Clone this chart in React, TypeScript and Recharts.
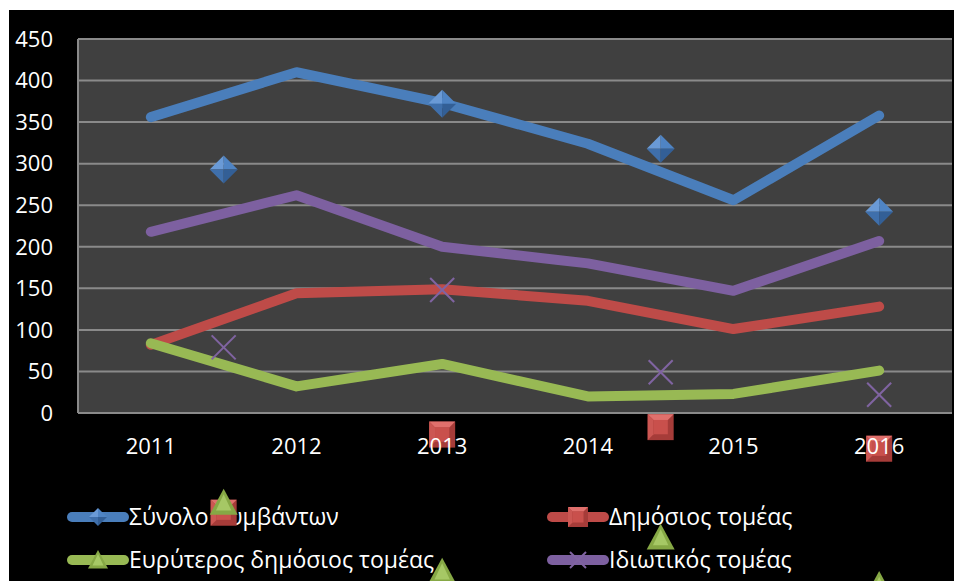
import React from 'react';
import { ComposedChart, Line, Scatter, XAxis, YAxis, CartesianGrid } from 'recharts';

const years = ['2011', '2012', '2013', '2014', '2015', '2016'];
const totalIncidents = [356, 410, 373, 324, 256, 358];
const publicSector = [82, 144, 149, 135, 101, 128];
const widerPublicSector = [84, 32, 59, 20, 23, 51];
const privateSector = [218, 262, 200, 180, 147, 207];

// stray markers, drawn off the lines as in the original
const markerX = [0.5, 2, 3.5, 5];
const totalMarks = [293, 372, 318, 242];
const publicMarks = [-120, -26, -17, -43];
const widerMarks = [-108, -191, -150, -207];
const privateMarks = [79, 148, 49, 22];

const yTicks = [0, 50, 100, 150, 200, 250, 300, 350, 400, 450];

const BLUE = '#4a7ebb';
const RED = '#be4b48';
const GREEN = '#98b954';
const PURPLE = '#7d60a0';

const lineData = years.map((y, i) => ({
  x: i,
  total: totalIncidents[i],
  pub: publicSector[i],
  wider: widerPublicSector[i],
  priv: privateSector[i],
}));

const marks = (vals: number[]) => markerX.map((x, i) => ({ x, y: vals[i] }));

const Diamond = ({ cx, cy, r = 14 }: any) => (
  <g>
    <polygon points={`${cx},${cy - r} ${cx},${cy} ${cx - r},${cy}`} fill="#6a9ad6" />
    <polygon points={`${cx},${cy - r} ${cx + r},${cy} ${cx},${cy}`} fill="#4f84c4" />
    <polygon points={`${cx - r},${cy} ${cx},${cy} ${cx},${cy + r}`} fill="#3f6fab" />
    <polygon points={`${cx},${cy} ${cx + r},${cy} ${cx},${cy + r}`} fill="#335f96" />
  </g>
);

const Square = ({ cx, cy, r = 13 }: any) => {
  const i = r * 0.55;
  return (
    <g>
      <rect x={cx - r} y={cy - r} width={r * 2} height={r * 2} fill="#a63c39" />
      <polygon points={`${cx - r},${cy - r} ${cx + r},${cy - r} ${cx + i},${cy - i} ${cx - i},${cy - i}`} fill="#e0706c" />
      <polygon points={`${cx - r},${cy - r} ${cx - i},${cy - i} ${cx - i},${cy + i} ${cx - r},${cy + r}`} fill="#cc5753" />
      <rect x={cx - i} y={cy - i} width={i * 2} height={i * 2} fill="#c9504c" />
    </g>
  );
};

const Triangle = ({ cx, cy, r = 14 }: any) => (
  <g>
    <polygon points={`${cx},${cy - r} ${cx + r},${cy + r * 0.85} ${cx - r},${cy + r * 0.85}`} fill="#86a845" />
    <polygon points={`${cx},${cy - r * 0.6} ${cx + r * 0.55},${cy + r * 0.55} ${cx - r * 0.55},${cy + r * 0.55}`} fill="#a6c865" />
  </g>
);

const Cross = ({ cx, cy, r = 12 }: any) => (
  <g stroke="#8064a2" strokeWidth={2}>
    <line x1={cx - r} y1={cy - r} x2={cx + r} y2={cy + r} />
    <line x1={cx - r} y1={cy + r} x2={cx + r} y2={cy - r} />
  </g>
);

const legendItems = [
  { name: 'Σύνολο συμβάντων', color: BLUE, Mark: Diamond, r: 9, left: 58, top: 507 },
  { name: 'Δημόσιος τομέας', color: RED, Mark: Square, r: 10, left: 538, top: 507 },
  { name: 'Ευρύτερος δημόσιος τομέας', color: GREEN, Mark: Triangle, r: 10, left: 58, top: 550 },
  { name: 'Ιδιωτικός τομέας', color: PURPLE, Mark: Cross, r: 8, left: 538, top: 550 },
];

export default function App() {
  return (
    <div
      style={{
        position: 'fixed',
        left: 9,
        top: 10,
        width: 945,
        height: 571,
        background: '#000',
        zIndex: 0,
        fontFamily: '"Open Sans", sans-serif',
      }}
    >
      <style>{'html,body{overflow:hidden}.recharts-scatter{clip-path:none !important}'}</style>
      {legendItems.map(({ name, color, Mark, r, left, top }) => (
        <div
          key={name}
          style={{ position: 'absolute', left, top: top - 12, height: 24, display: 'flex', alignItems: 'center', zIndex: 0 }}
        >
          <svg width={62} height={24} style={{ display: 'block' }}>
            <line x1={5} y1={12} x2={57} y2={12} stroke={color} strokeWidth={10} strokeLinecap="round" />
            <Mark cx={31} cy={12} r={r} />
          </svg>
          <span style={{ color: '#fff', fontSize: 23, lineHeight: '24px', whiteSpace: 'nowrap', marginTop: -3 }}>{name}</span>
        </div>
      ))}
      <div style={{ position: 'relative', zIndex: 1 }}>
        <ComposedChart width={945} height={571} data={lineData} margin={{ top: 29, right: 2, left: 0, bottom: 128 }}>
          <CartesianGrid vertical={false} fill="#404040" stroke="#8a8a8a" strokeWidth={2} />
          <XAxis
            dataKey="x"
            type="number"
            domain={[-0.5, 5.5]}
            ticks={[0, 1, 2, 3, 4, 5]}
            tickFormatter={(v: number) => years[v]}
            height={40}
            tickSize={0}
            tickMargin={25}
            axisLine={{ stroke: '#8a8a8a', strokeWidth: 2 }}
            tick={{ fill: '#fff', fontSize: 22 }}
          />
          <YAxis
            type="number"
            domain={[0, 450]}
            ticks={yTicks}
            allowDataOverflow
            width={69}
            tickSize={0}
            tickMargin={25}
            axisLine={{ stroke: '#8a8a8a', strokeWidth: 2 }}
            tick={{ fill: '#fff', fontSize: 22 }}
          />
          <Line dataKey="total" stroke={BLUE} strokeWidth={10} strokeLinecap="round" strokeLinejoin="round" dot={false} isAnimationActive={false} />
          <Line dataKey="pub" stroke={RED} strokeWidth={10} strokeLinecap="round" strokeLinejoin="round" dot={false} isAnimationActive={false} />
          <Line dataKey="wider" stroke={GREEN} strokeWidth={10} strokeLinecap="round" strokeLinejoin="round" dot={false} isAnimationActive={false} />
          <Line dataKey="priv" stroke={PURPLE} strokeWidth={10} strokeLinecap="round" strokeLinejoin="round" dot={false} isAnimationActive={false} />
          <Scatter data={marks(totalMarks)} dataKey="y" shape={(p: any) => <Diamond cx={p.cx} cy={p.cy} />} isAnimationActive={false} />
          <Scatter data={marks(publicMarks)} dataKey="y" shape={(p: any) => <Square cx={p.cx} cy={p.cy} />} isAnimationActive={false} />
          <Scatter data={marks(widerMarks)} dataKey="y" shape={(p: any) => <Triangle cx={p.cx} cy={p.cy} />} isAnimationActive={false} />
          <Scatter data={marks(privateMarks)} dataKey="y" shape={(p: any) => <Cross cx={p.cx} cy={p.cy} />} isAnimationActive={false} />
        </ComposedChart>
      </div>
    </div>
  );
}
